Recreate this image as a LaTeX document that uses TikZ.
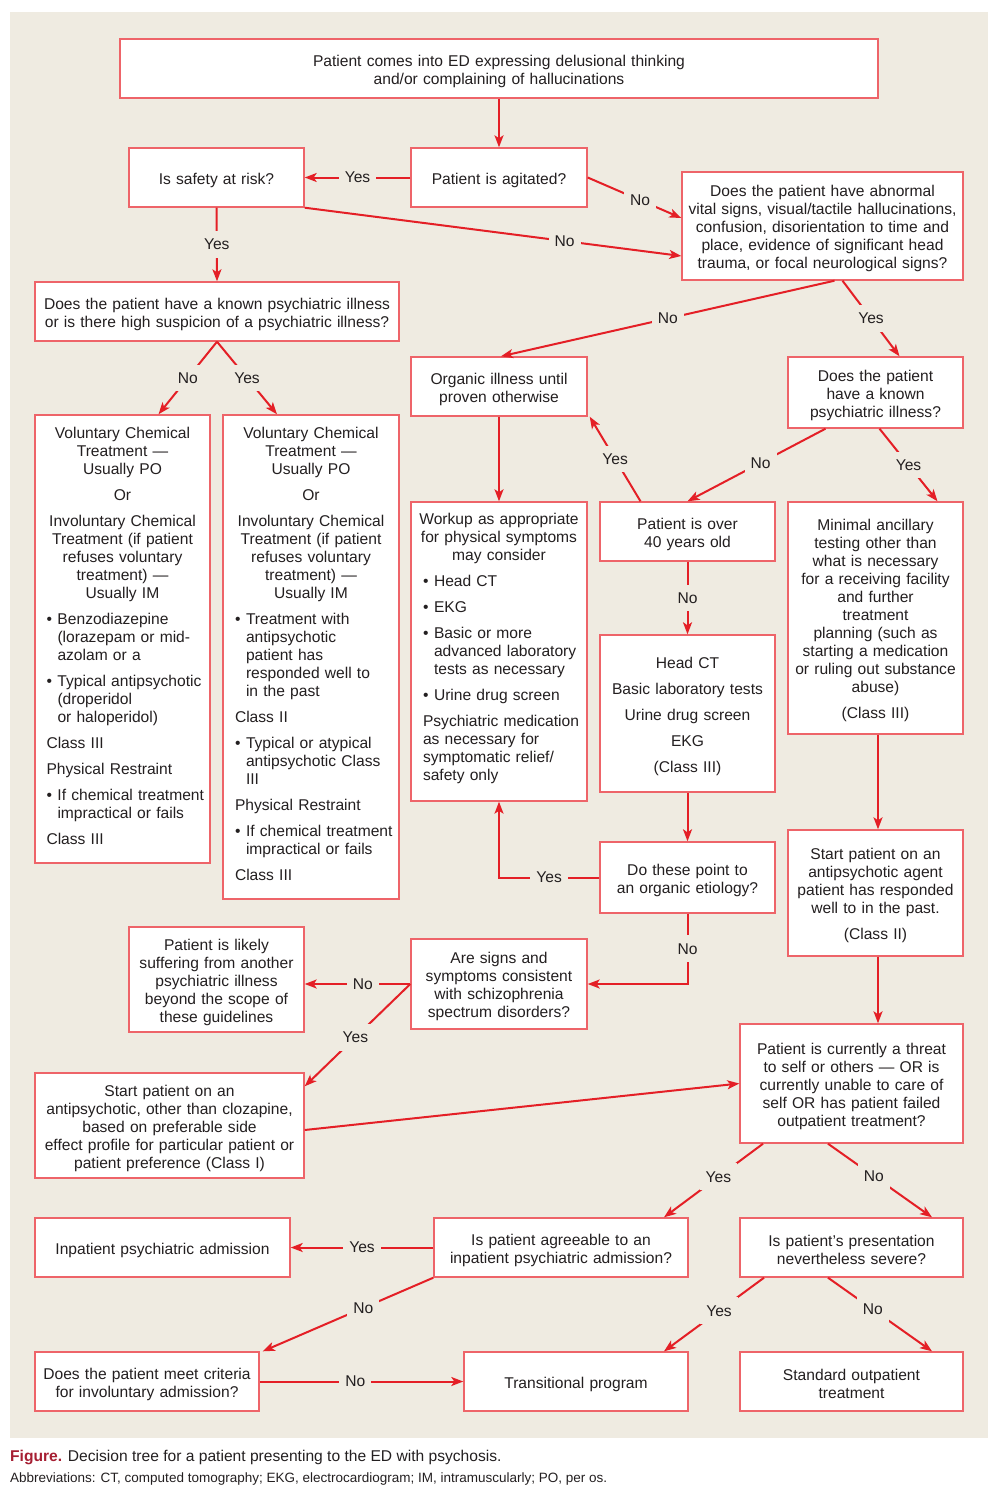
\documentclass[tikz,border=0pt]{standalone}
\usepackage{fontspec}
\setmainfont{Liberation Sans}
\usetikzlibrary{arrows.meta}
\definecolor{bgcol}{HTML}{EFEBE1}
\definecolor{boxred}{HTML}{EE6469}
\definecolor{arrred}{HTML}{E41F26}
\definecolor{txtgray}{HTML}{231F20}
\definecolor{figred}{HTML}{A61E32}
\newcommand\lft{\raggedright\leftskip=8pt\relax}
\newcommand\lstend{\par\vspace*{6pt}}
\newcommand\itm[1]{\par{\leftskip=19pt\noindent\hspace*{-11pt}\makebox[11pt][l]{\textbullet}#1\par}}
\begin{document}
\begin{tikzpicture}[x=1pt,y=-1pt,
  font=\fontsize{15.6}{18}\selectfont,
  box/.style={draw=boxred,line width=1.4pt,fill=white,inner sep=0pt,align=center,text=txtgray,
    execute at begin node={\hyphenpenalty=10000\rule{0pt}{17pt}}},
  sz/.style 2 args={minimum width=#1pt,minimum height=#2pt,text width={#1pt-6pt}},
  listbox/.style={draw=boxred,line width=1.4pt,fill=white,inner sep=0pt,text=txtgray,text width=#1pt,
    execute at begin node={\setlength\parindent{0pt}\setlength\parskip{8pt}\hyphenpenalty=10000},
    execute at end node={\lstend}},
  lsz/.style 2 args={minimum width=#1pt,minimum height=#2pt},
  arr/.style={draw=arrred,line width=2pt,-{Stealth[length=12pt,width=9pt,inset=3pt]}},
  lbl/.style={fill=bgcol,inner xsep=6pt,inner ysep=8pt,text=txtgray}]
\useasboundingbox (0,0) rectangle (1000,1509);
\fill[bgcol] (10,12) rectangle (988,1438);
% boxes
\node[box,sz={758}{59}] (start) at (499,68.5) {Patient comes into ED expressing delusional thinking\\and/or complaining of hallucinations};
\node[box,sz={175}{59}] (safety) at (216.5,177.5) {Is safety at risk?};
\node[box,sz={176}{59}] (agitated) at (499,177.5) {Patient is agitated?};
\node[box,sz={281}{108}] (abnormal) at (822.5,226) {Does the patient have abnormal\\vital signs, visual/tactile hallucinations,\\confusion, disorientation to time and\\place, evidence of significant head\\trauma, or focal neurological signs?};
\node[box,sz={364}{59}] (known1) at (217,311.5) {Does the patient have a known psychiatric illness\\or is there high suspicion of a psychiatric illness?};
\node[listbox=168,lsz={175}{448}] (vol1) at (122.5,639) {{\centering Voluntary Chemical\\Treatment —\\Usually PO\par
  Or\par
  Involuntary Chemical\\Treatment (if patient\\refuses voluntary\\treatment) —\\Usually IM\par}
  \lft
  \itm{Benzodiazepine\\(lorazepam or mid-\\azolam or a}
  \itm{Typical antipsychotic\\(droperidol\\or haloperidol)}
  Class III\par
  Physical Restraint\par
  \itm{If chemical treatment\\impractical or fails}
  Class III\par};
\node[listbox=168,lsz={176}{484}] (vol2) at (311,657) {{\centering Voluntary Chemical\\Treatment —\\Usually PO\par
  Or\par
  Involuntary Chemical\\Treatment (if patient\\refuses voluntary\\treatment) —\\Usually IM\par}
  \lft
  \itm{Treatment with\\antipsychotic\\patient has\\responded well to\\in the past}
  Class II\par
  \itm{Typical or atypical\\antipsychotic Class\\III}
  Physical Restraint\par
  \itm{If chemical treatment\\impractical or fails}
  Class III\par};
\node[box,sz={176}{59}] (organic) at (499,386.5) {Organic illness until\\proven otherwise};
\node[box,sz={175}{71}] (known2) at (875.5,392.5) {Does the patient\\have a known\\psychiatric illness?};
\node[listbox=168,lsz={176}{299}] (workup) at (499,651.5) {{\centering Workup as appropriate\\for physical symptoms\\may consider\par}
  \lft
  \itm{Head CT}
  \itm{EKG}
  \itm{Basic or more\\advanced laboratory\\tests as necessary}
  \itm{Urine drug screen}
  Psychiatric medication\\as necessary for\\symptomatic relief/\\safety only\par};
\node[box,sz={175}{59}] (over40) at (687.5,531.5) {Patient is over\\40 years old};
\node[box,sz={175}{232}] (minimal) at (875.5,618) {Minimal ancillary\\testing other than\\what is necessary\\for a receiving facility\\and further\\treatment\\planning (such as\\starting a medication\\or ruling out substance\\abuse)\\[8pt](Class III)};
\node[box,sz={175}{157}] (headct) at (687.5,713.5) {Head CT\\[8pt]Basic laboratory tests\\[8pt]Urine drug screen\\[8pt]EKG\\[8pt](Class III)};
\node[box,sz={175}{71}] (point) at (687.5,877.5) {Do these point to\\an organic etiology?};
\node[box,sz={175}{126}] (agent) at (875.5,893) {Start patient on an\\antipsychotic agent\\patient has responded\\well to in the past.\\[8pt](Class II)};
\node[box,sz={175}{105}] (likely) at (216.5,979.5) {Patient is likely\\suffering from another\\psychiatric illness\\beyond the scope of\\these guidelines};
\node[box,sz={176}{90}] (signs) at (499,984) {Are signs and\\symptoms consistent\\with schizophrenia\\spectrum disorders?};
\node[box,sz={269}{105}] (startap) at (169.5,1125.5) {Start patient on an\\antipsychotic, other than clozapine,\\based on preferable side\\effect profile for particular patient or\\patient preference (Class I)};
\node[box,sz={223}{119}] (threat) at (851.5,1083.5) {Patient is currently a threat\\to self or others — OR is\\currently unable to care of\\self OR has patient failed\\outpatient treatment?};
\node[box,sz={255}{59}] (inpatient) at (162.5,1247.5) {Inpatient psychiatric admission};
\node[box,sz={254}{59}] (agreeable) at (561,1247.5) {Is patient agreeable to an\\inpatient psychiatric admission?};
\node[box,sz={223}{59}] (severe) at (851.5,1247.5) {Is patient’s presentation\\nevertheless severe?};
\node[box,sz={224}{59}] (criteria) at (147,1381.5) {Does the patient meet criteria\\for involuntary admission?};
\node[box,sz={224}{59}] (transitional) at (576,1381.5) {Transitional program};
\node[box,sz={223}{59}] (standard) at (851.5,1381.5) {Standard outpatient\\treatment};
% arrows
\draw[arr] (start.south) -- (agitated.north);
\draw[arr] (agitated.west) -- node[lbl]{Yes} (safety.east);
\draw[arr] (agitated.east) -- node[lbl,pos=0.56]{No} ([yshift=8pt]abnormal.west);
\draw[arr] (safety.south east) -- node[lbl,pos=0.69]{No} ([yshift=-30pt]abnormal.west);
\draw[arr] (safety.south) -- node[lbl]{Yes} (known1.north);
\draw[arr] (known1.south) -- node[lbl]{No} ([xshift=36pt]vol1.north);
\draw[arr] (known1.south) -- node[lbl]{Yes} ([xshift=-34pt]vol2.north);
\draw[arr] ([xshift=12pt]abnormal.south) -- node[lbl]{No} ([xshift=2pt]organic.north);
\draw[arr] ([xshift=20pt]abnormal.south) -- node[lbl]{Yes} ([xshift=24pt]known2.north);
\draw[arr] ([xshift=-50pt]known2.south) -- node[lbl,pos=0.47]{No} (over40.north);
\draw[arr] ([xshift=4pt]known2.south) -- node[lbl]{Yes} ([xshift=62pt]minimal.north);
\draw[arr] ([xshift=-47pt]over40.north) -- node[lbl]{Yes} ([xshift=2pt]organic.south east);
\draw[arr] (organic.south) -- (workup.north);
\draw[arr] (over40.south) -- node[lbl]{No} (headct.north);
\draw[arr] (headct.south) -- (point.north);
\draw[arr] ([xshift=2.5pt]minimal.south) -- ([xshift=2.5pt]agent.north);
\draw[arr] (point.west) -| node[lbl,pos=0.25]{Yes} (workup.south);
\draw[arr] (point.south) |- node[lbl,pos=0.25]{No} (signs.east);
\draw[arr] ([xshift=2.5pt]agent.south) -- ([xshift=26.5pt]threat.north);
\draw[arr] (signs.west) -- node[lbl,pos=0.45]{No} (signs.west -| likely.east);
\draw[arr] (signs.west) -- node[lbl,pos=0.52]{Yes} ([yshift=-14pt]startap.north east);
\draw[arr] ([yshift=-4.5pt]startap.east) -- (threat.west);
\draw[arr] ([xshift=-88.5pt]threat.south) -- node[lbl,pos=0.45]{Yes} ([xshift=103pt]agreeable.north);
\draw[arr] ([xshift=-23.5pt]threat.south) -- node[lbl,pos=0.44]{No} ([xshift=80.5pt]severe.north);
\draw[arr] (agreeable.west) -- node[lbl]{Yes} (inpatient.east);
\draw[arr] (agreeable.south west) -- node[lbl,pos=0.41]{No} ([xshift=3pt]criteria.north east);
\draw[arr] ([xshift=-87.5pt]severe.south) -- node[lbl,pos=0.45]{Yes} ([xshift=88pt]transitional.north);
\draw[arr] ([xshift=-23.5pt]severe.south) -- node[lbl,pos=0.43]{No} ([xshift=80.5pt]standard.north);
\draw[arr] (criteria.east) -- node[lbl,pos=0.47]{No} (transitional.west);
% caption
\node[anchor=west,inner sep=0pt,text=txtgray] (caption) at (10,1457) {\textcolor{figred}{\bfseries Figure.} Decision tree for a patient presenting to the ED with psychosis.};
\node[anchor=west,inner sep=0pt,text=txtgray,font=\fontsize{13.5}{16}\selectfont] (abbrev) at (10,1479) {Abbreviations: CT, computed tomography; EKG, electrocardiogram; IM, intramuscularly; PO, per os.};
\end{tikzpicture}
\end{document}
